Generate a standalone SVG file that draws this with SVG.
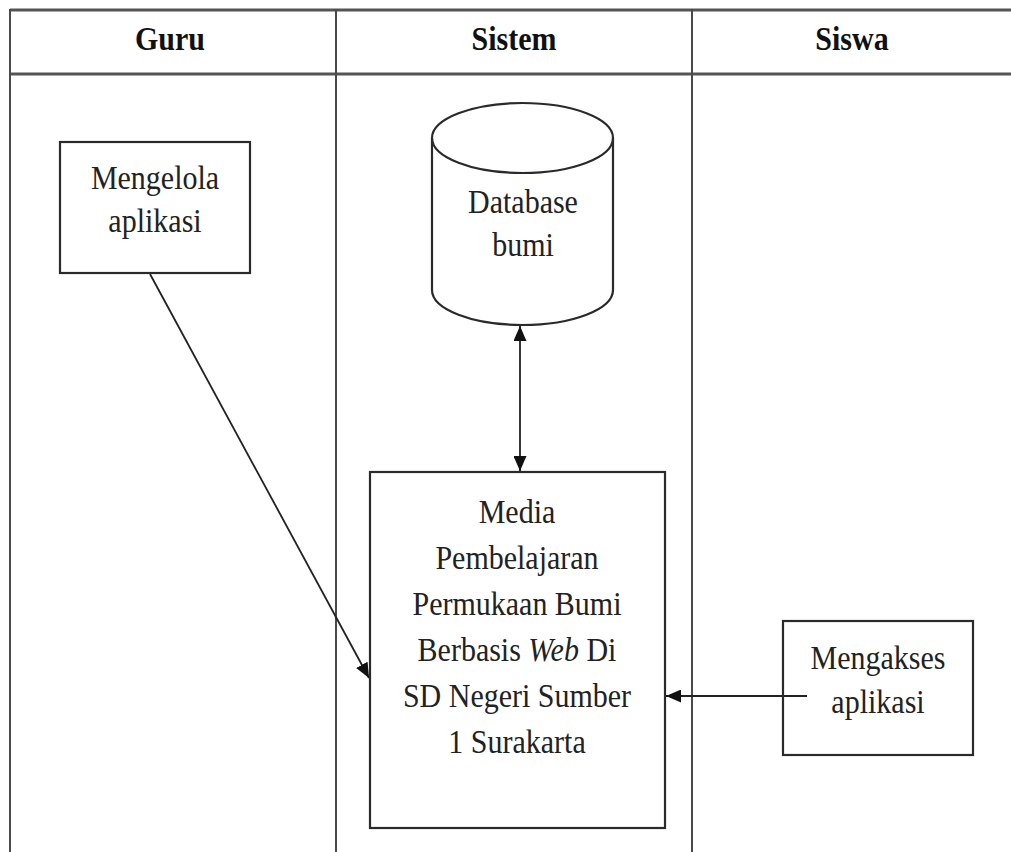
<svg xmlns="http://www.w3.org/2000/svg" width="1011" height="852" viewBox="0 0 1011 852">
  <style>
    .lane { stroke: #4a4a4a; stroke-width: 2; fill: none; }
    .rule { stroke: #555; stroke-width: 3; fill: none; }
    .box { stroke: #2a2a2a; stroke-width: 2.2; fill: #fff; }
    .open { fill: none; }
    .head { font-family: "Liberation Serif", "Times New Roman", serif; font-weight: bold; font-size: 30px; fill: #111; text-anchor: middle; }
    .lbl { font-family: "Liberation Serif", "Times New Roman", serif; font-size: 30px; fill: #222; text-anchor: middle; }
    .conn { stroke: #222; stroke-width: 1.8; fill: none; }
  </style>
  <defs>
    <marker id="arrow" viewBox="0 0 15 13" refX="15" refY="6.5" markerWidth="15" markerHeight="13" markerUnits="userSpaceOnUse" orient="auto-start-reverse">
      <path d="M0,0 L15,6.5 L0,13 Z" fill="#111"/>
    </marker>
  </defs>
  <rect width="1011" height="852" fill="#fff"/>

  <!-- swimlane frame -->
  <g id="lanes">
    <line class="rule" x1="10" y1="10" x2="1011" y2="10"/>
    <line class="rule" x1="10" y1="74" x2="1011" y2="74"/>
    <line class="lane" x1="10" y1="9" x2="10" y2="852"/>
    <line class="lane" x1="336" y1="9" x2="336" y2="852"/>
    <line class="lane" x1="692" y1="9" x2="692" y2="852"/>
    <text class="head" transform="translate(170,50) scale(1,1.15)">Guru</text>
    <text class="head" transform="translate(514,50) scale(1,1.15)">Sistem</text>
    <text class="head" transform="translate(852,50) scale(1,1.15)">Siswa</text>
  </g>

  <!-- connectors -->
  <g id="connectors">
    <line class="conn" x1="520" y1="326" x2="520" y2="471" marker-start="url(#arrow)" marker-end="url(#arrow)"/>
    <line class="conn" x1="150" y1="274" x2="369" y2="678" marker-end="url(#arrow)"/>
    <line class="conn" x1="807" y1="696" x2="666" y2="696" marker-end="url(#arrow)"/>
  </g>

  <g id="mengelola">
    <rect class="box" x="60" y="142" width="190" height="131"/>
    <text class="lbl" transform="translate(155,189) scale(1,1.1)">Mengelola</text>
    <text class="lbl" transform="translate(155,232) scale(1,1.1)">aplikasi</text>
  </g>

  <g id="database">
    <path class="box" d="M432,138 L432,290 A90.5,35 0 0 0 613,290 L613,138 A90.5,35 0 0 0 432,138 Z"/>
    <path class="box open" d="M432,138 A90.5,35 0 0 0 613,138"/>
    <text class="lbl" transform="translate(523,213) scale(1,1.1)">Database</text>
    <text class="lbl" transform="translate(523,256) scale(1,1.1)">bumi</text>
  </g>

  <g id="media">
    <rect class="box" x="370" y="472" width="295" height="356"/>
    <text class="lbl" transform="translate(517,523) scale(1,1.1)">Media</text>
    <text class="lbl" transform="translate(517,569) scale(1,1.1)">Pembelajaran</text>
    <text class="lbl" transform="translate(517,615) scale(1,1.1)">Permukaan Bumi</text>
    <text class="lbl" transform="translate(517,661) scale(1,1.1)">Berbasis <tspan font-style="italic">Web</tspan> Di</text>
    <text class="lbl" transform="translate(517,707) scale(1,1.1)">SD Negeri Sumber</text>
    <text class="lbl" transform="translate(517,753) scale(1,1.1)">1 Surakarta</text>
  </g>

  <g id="mengakses">
    <rect class="box open" x="783" y="621" width="190" height="134"/>
    <text class="lbl" transform="translate(878,669) scale(1,1.1)">Mengakses</text>
    <text class="lbl" transform="translate(878,713) scale(1,1.1)">aplikasi</text>
  </g>
</svg>
